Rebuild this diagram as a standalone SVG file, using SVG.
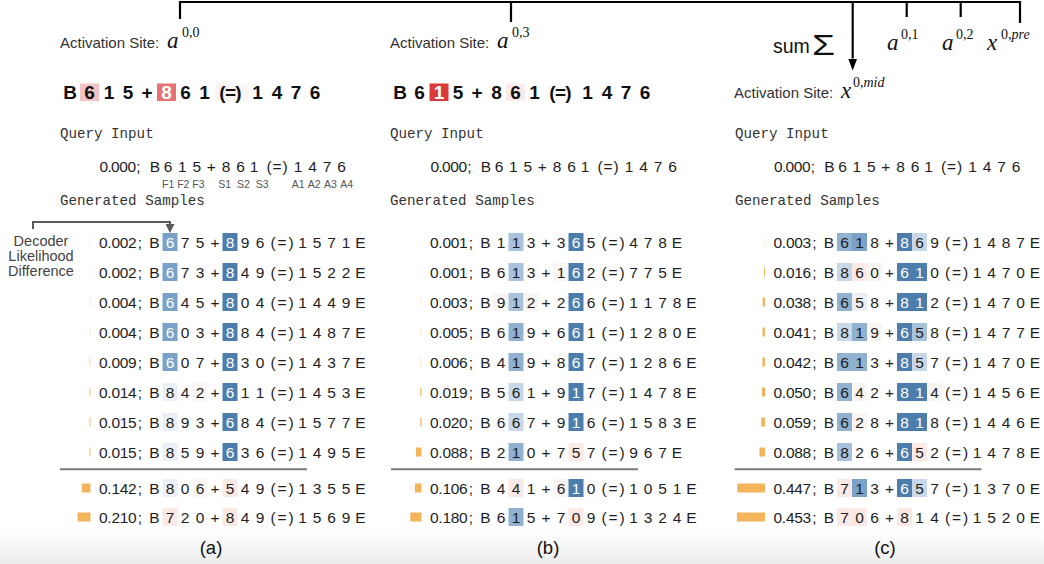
<svg xmlns="http://www.w3.org/2000/svg" width="1044" height="564" viewBox="0 0 1044 564">
<defs>
<linearGradient id="fade" x1="0" y1="0" x2="0" y2="1"><stop offset="0" stop-color="#ffffff"/><stop offset="1" stop-color="#ebebeb"/></linearGradient>
<marker id="ahk" viewBox="0 0 10 10" refX="0" refY="5" markerWidth="12" markerHeight="9" markerUnits="userSpaceOnUse" orient="auto" preserveAspectRatio="none"><path d="M0,0L10,5L0,10z" fill="#000"/></marker>
<marker id="ahg" viewBox="0 0 10 10" refX="0" refY="5" markerWidth="9" markerHeight="9" markerUnits="userSpaceOnUse" orient="auto" preserveAspectRatio="none"><path d="M0,0L10,5L0,10z" fill="#5a5a5a"/></marker>
<style>
.t{font-family:"Liberation Sans",Arial,sans-serif;font-size:15.5px;fill:#1e1e1e;text-anchor:middle}
.w{fill:#ffffff}
.big{font-family:"Liberation Sans",Arial,sans-serif;font-size:19px;font-weight:bold;fill:#111;text-anchor:middle}
.mono{font-family:"Liberation Mono","DejaVu Sans Mono",monospace;font-size:14.2px;fill:#333}
.lab{font-family:"Liberation Sans",Arial,sans-serif;font-size:15px;fill:#333}
.mi{font-family:"Liberation Serif","Times New Roman",serif;font-style:italic;font-size:23px;fill:#111}
.sup{font-family:"Liberation Serif","Times New Roman",serif;font-style:normal;font-size:14px;fill:#111}
.fl{font-family:"Liberation Sans",Arial,sans-serif;font-size:10.5px;fill:#555}
.dl{font-family:"Liberation Sans",Arial,sans-serif;font-size:14.5px;fill:#444;text-anchor:middle}
.cap{font-family:"Liberation Sans",Arial,sans-serif;font-size:18.5px;fill:#111;text-anchor:middle}
.bar{fill:#f3b45c}
.b1{fill:#eaf0f6}.b2{fill:#c9d8e8}.b3{fill:#a9c2dc}.b4{fill:#90b1d0}.b5{fill:#7aa1c7}.b6{fill:#4d7dab}
.p1{fill:#fbe9e6}.p0{fill:#f9f5f3}
.sep{stroke:#7a7a7a;stroke-width:2}
.con{fill:none;stroke:#000;stroke-width:2.2}
.cong{fill:none;stroke:#5a5a5a;stroke-width:2}
</style>
</defs>
<rect width="1044" height="564" fill="#fff"/>
<rect x="0" y="532" width="1044" height="32" fill="url(#fade)"/>

<g id="connectors">
<path class="con" d="M180,19V2H1020V23M511,2V22M906.7,2V17M960.7,2V17"/>
<path class="con" d="M852.7,2V58.5" marker-end="url(#ahk)"/>
<path class="cong" d="M33,229V222H170V224" marker-end="url(#ahg)"/>
</g>

<g id="sum-label">
<text x="773" y="53" font-family="Liberation Sans, Arial, sans-serif" font-size="19.5" fill="#111">sum</text>
<text x="812" y="55" font-family="Liberation Sans, Arial, sans-serif" font-size="30" fill="#111" textLength="23" lengthAdjust="spacingAndGlyphs">Σ</text>
</g>
<g id="a01"><text class="mi" x="887" y="50">a<tspan class="sup" x="901" dy="-11">0,1</tspan></text></g>
<g id="a02"><text class="mi" x="942" y="50">a<tspan class="sup" x="956" dy="-11">0,2</tspan></text></g>
<g id="x0pre"><text class="mi" x="987" y="50">x<tspan class="sup" x="1001" dy="-11">0,<tspan font-style="italic">pre</tspan></tspan></text></g>

<g id="site-a"><text class="lab" x="60" y="48">Activation Site: <tspan class="mi" x="167">a</tspan><tspan class="sup" x="182" dy="-11">0,0</tspan></text></g>
<g id="site-b"><text class="lab" x="390" y="48">Activation Site: <tspan class="mi" x="497">a</tspan><tspan class="sup" x="512" dy="-11">0,3</tspan></text></g>
<g id="site-c"><text class="lab" x="734" y="98">Activation Site: <tspan class="mi" x="841">x</tspan><tspan class="sup" x="853" dy="-11">0,<tspan font-style="italic">mid</tspan></tspan></text></g>

<g id="decoder-label">
<text class="dl" x="41" y="246">Decoder</text>
<text class="dl" x="41" y="261">Likelihood</text>
<text class="dl" x="41" y="276">Difference</text>
</g>

<g id="panel-a">
<g id="a-head">
<rect x="80" y="83.5" width="19" height="17.5" fill="#f3c3c3"/>
<rect x="157" y="83.5" width="19" height="17.5" fill="#e57373"/>
<rect x="215" y="83.5" width="34" height="17.5" fill="#fcf5f5"/>
<text class="big" y="98.5" x="70 80 89.5 99 109 118.5 128 137.5 147 157 166.5 176 185.5 195 204.5 212 222.5 230.5 238.5 248 257.5 267 277 286.5 296 305.5 315">B 6 1 5 + <tspan class="w">8</tspan> 6 1 (=) 1 4 7 6</text>
</g>
<text class="mono" x="60" y="138">Query Input</text>
<text class="t" y="171.5" x="103.8 109.6 115.4 123.6 131.8 135 138.5 146 155 161 168 175 182.3 189.5 196.8 204 211.3 219 226 233 240.5 247 254 261 269 277 285 291.5 298 305 312.5 320 327 334 341.5">0.000 ; B 6 1 5 + 8 6 1 (=) 1 4 7 6</text>
<text class="fl" x="162" y="188">F1 F2 F3</text>
<text class="fl" x="218.3" y="188" word-spacing="3">S1 S2 S3</text>
<text class="fl" x="291.7" y="188" word-spacing="1">A1 A2 A3 A4</text>
<text class="mono" x="60" y="205">Generated Samples</text>

<g id="a-r1" transform="translate(0,242)"><rect class="bar" x="89.5" y="-4.5" width="1" height="9" fill-opacity=".2"/><rect class="b5" x="162.5" y="-9" width="15" height="18"/><rect class="b6" x="222.5" y="-9" width="15" height="18"/><text class="t" y="5.5" x="103.2 109.4 115.7 124 132.4 136.5 140 147 154.5 162 170 177.5 185 192.5 200 207.5 215 222.5 230 237.5 245 252.5 260 266 273 282 291 297 302.5 310 317 324 331.5 339 346 353 360.5">0.002 ; B <tspan class="w">6</tspan> 7 5 + <tspan class="w">8</tspan> 9 6 (=) 1 5 7 1 E</text></g>
<g id="a-r2" transform="translate(0,272)"><rect class="bar" x="89.5" y="-4.5" width="1" height="9" fill-opacity=".2"/><rect class="b5" x="162.5" y="-9" width="15" height="18"/><rect class="b6" x="222.5" y="-9" width="15" height="18"/><text class="t" y="5.5" x="103.2 109.4 115.7 124 132.4 136.5 140 147 154.5 162 170 177.5 185 192.5 200 207.5 215 222.5 230 237.5 245 252.5 260 266 273 282 291 297 302.5 310 317 324 331.5 339 346 353 360.5">0.002 ; B <tspan class="w">6</tspan> 7 3 + <tspan class="w">8</tspan> 4 9 (=) 1 5 2 2 E</text></g>
<g id="a-r3" transform="translate(0,302)"><rect class="bar" x="89.5" y="-4.5" width="1" height="9" fill-opacity=".3"/><rect class="b5" x="162.5" y="-9" width="15" height="18"/><rect class="b6" x="222.5" y="-9" width="15" height="18"/><text class="t" y="5.5" x="103.2 109.4 115.7 124 132.4 136.5 140 147 154.5 162 170 177.5 185 192.5 200 207.5 215 222.5 230 237.5 245 252.5 260 266 273 282 291 297 302.5 310 317 324 331.5 339 346 353 360.5">0.004 ; B <tspan class="w">6</tspan> 4 5 + <tspan class="w">8</tspan> 0 4 (=) 1 4 4 9 E</text></g>
<g id="a-r4" transform="translate(0,332)"><rect class="bar" x="89.5" y="-4.5" width="1" height="9" fill-opacity=".3"/><rect class="b5" x="162.5" y="-9" width="15" height="18"/><rect class="b6" x="222.5" y="-9" width="15" height="18"/><text class="t" y="5.5" x="103.2 109.4 115.7 124 132.4 136.5 140 147 154.5 162 170 177.5 185 192.5 200 207.5 215 222.5 230 237.5 245 252.5 260 266 273 282 291 297 302.5 310 317 324 331.5 339 346 353 360.5">0.004 ; B <tspan class="w">6</tspan> 0 3 + <tspan class="w">8</tspan> 8 4 (=) 1 4 8 7 E</text></g>
<g id="a-r5" transform="translate(0,362)"><rect class="bar" x="89.5" y="-4.5" width="1" height="9" fill-opacity=".55"/><rect class="b5" x="162.5" y="-9" width="15" height="18"/><rect class="b6" x="222.5" y="-9" width="15" height="18"/><text class="t" y="5.5" x="103.2 109.4 115.7 124 132.4 136.5 140 147 154.5 162 170 177.5 185 192.5 200 207.5 215 222.5 230 237.5 245 252.5 260 266 273 282 291 297 302.5 310 317 324 331.5 339 346 353 360.5">0.009 ; B <tspan class="w">6</tspan> 0 7 + <tspan class="w">8</tspan> 3 0 (=) 1 4 3 7 E</text></g>
<g id="a-r6" transform="translate(0,392)"><rect class="bar" x="89.5" y="-4.5" width="1" height="9" fill-opacity=".8"/><rect class="b1" x="162.5" y="-9" width="15" height="18"/><rect class="p0" x="192.5" y="-9" width="15" height="18"/><rect class="b6" x="222.5" y="-9" width="15" height="18"/><text class="t" y="5.5" x="103.2 109.4 115.7 124 132.4 136.5 140 147 154.5 162 170 177.5 185 192.5 200 207.5 215 222.5 230 237.5 245 252.5 260 266 273 282 291 297 302.5 310 317 324 331.5 339 346 353 360.5">0.014 ; B 8 4 2 + <tspan class="w">6</tspan> 1 1 (=) 1 4 5 3 E</text></g>
<g id="a-r7" transform="translate(0,422)"><rect class="bar" x="89.5" y="-4.5" width="1" height="9" fill-opacity=".85"/><rect class="b1" x="162.5" y="-9" width="15" height="18"/><rect class="b6" x="222.5" y="-9" width="15" height="18"/><text class="t" y="5.5" x="103.2 109.4 115.7 124 132.4 136.5 140 147 154.5 162 170 177.5 185 192.5 200 207.5 215 222.5 230 237.5 245 252.5 260 266 273 282 291 297 302.5 310 317 324 331.5 339 346 353 360.5">0.015 ; B 8 9 3 + <tspan class="w">6</tspan> 8 4 (=) 1 5 7 7 E</text></g>
<g id="a-r8" transform="translate(0,452)"><rect class="bar" x="89.5" y="-4.5" width="1" height="9" fill-opacity=".85"/><rect class="b1" x="162.5" y="-9" width="15" height="18"/><rect class="b6" x="222.5" y="-9" width="15" height="18"/><text class="t" y="5.5" x="103.2 109.4 115.7 124 132.4 136.5 140 147 154.5 162 170 177.5 185 192.5 200 207.5 215 222.5 230 237.5 245 252.5 260 266 273 282 291 297 302.5 310 317 324 331.5 339 346 353 360.5">0.015 ; B 8 5 9 + <tspan class="w">6</tspan> 3 6 (=) 1 4 9 5 E</text></g>
<line class="sep" x1="60" y1="469.3" x2="307" y2="469.3"/>
<g id="a-r9" transform="translate(0,488)"><rect class="bar" x="81.7" y="-4.5" width="8.8" height="9"/><rect class="b1" x="162.5" y="-9" width="15" height="18"/><rect class="p0" x="192.5" y="-9" width="15" height="18"/><rect class="p1" x="222.5" y="-9" width="15" height="18"/><text class="t" y="5.5" x="103.2 109.4 115.7 124 132.4 136.5 140 147 154.5 162 170 177.5 185 192.5 200 207.5 215 222.5 230 237.5 245 252.5 260 266 273 282 291 297 302.5 310 317 324 331.5 339 346 353 360.5">0.142 ; B 8 0 6 + 5 4 9 (=) 1 3 5 5 E</text></g>
<g id="a-r10" transform="translate(0,517)"><rect class="bar" x="77.5" y="-4.5" width="13" height="9"/><rect class="p1" x="162.5" y="-9" width="15" height="18"/><rect class="p1" x="222.5" y="-9" width="15" height="18"/><text class="t" y="5.5" x="103.2 109.4 115.7 124 132.4 136.5 140 147 154.5 162 170 177.5 185 192.5 200 207.5 215 222.5 230 237.5 245 252.5 260 266 273 282 291 297 302.5 310 317 324 331.5 339 346 353 360.5">0.210 ; B 7 2 0 + 8 4 9 (=) 1 5 6 9 E</text></g>
<text class="cap" x="211" y="554">(a)</text>
</g>

<g id="panel-b" transform="translate(331,0)">
<g id="b-head" transform="translate(-1,0)">
<rect x="99.5" y="83.5" width="19" height="17.5" fill="#d93a3a"/>
<rect x="176" y="83.5" width="19" height="17.5" fill="#fbeaea"/>
<text class="big" y="98.5" x="70 80 89.5 99 109 118.5 128 137.5 147 157 166.5 176 185.5 195 204.5 212 222.5 230.5 238.5 248 257.5 267 277 286.5 296 305.5 315">B 6 <tspan class="w">1</tspan> 5 + 8 6 1 (=) 1 4 7 6</text>
</g>
<text class="mono" x="59" y="138">Query Input</text>
<text class="t" y="171.5" x="103.8 109.6 115.4 123.6 131.8 135 138.5 146 155 161 168 175 182.3 189.5 196.8 204 211.3 219 226 233 240.5 247 254 261 269 277 285 291.5 298 305 312.5 320 327 334 341.5">0.000 ; B 6 1 5 + 8 6 1 (=) 1 4 7 6</text>
<text class="mono" x="59" y="205">Generated Samples</text>

<g id="b-r1" transform="translate(0,242)"><rect class="bar" x="89.5" y="-4.5" width="1" height="9" fill-opacity=".12"/><rect class="b3" x="177.5" y="-9" width="15" height="18"/><rect class="b6" x="237.5" y="-9" width="15" height="18"/><text class="t" y="5.5" x="103.2 109.4 115.7 124 132.4 136.5 140 147 154.5 162 170 177.5 185 192.5 200 207.5 215 222.5 230 237.5 245 252.5 260 266 273 282 291 297 302.5 310 317 324 331.5 339 346 353 360.5">0.001 ; B 1 1 3 + 3 <tspan class="w">6</tspan> 5 (=) 4 7 8 E</text></g>
<g id="b-r2" transform="translate(0,272)"><rect class="bar" x="89.5" y="-4.5" width="1" height="9" fill-opacity=".12"/><rect class="b3" x="177.5" y="-9" width="15" height="18"/><rect class="p0" x="222.5" y="-9" width="15" height="18"/><rect class="b6" x="237.5" y="-9" width="15" height="18"/><text class="t" y="5.5" x="103.2 109.4 115.7 124 132.4 136.5 140 147 154.5 162 170 177.5 185 192.5 200 207.5 215 222.5 230 237.5 245 252.5 260 266 273 282 291 297 302.5 310 317 324 331.5 339 346 353 360.5">0.001 ; B 6 1 3 + 1 <tspan class="w">6</tspan> 2 (=) 7 7 5 E</text></g>
<g id="b-r3" transform="translate(0,302)"><rect class="bar" x="89.5" y="-4.5" width="1" height="9" fill-opacity=".25"/><rect class="p0" x="162.5" y="-9" width="15" height="18"/><rect class="b3" x="177.5" y="-9" width="15" height="18"/><rect class="p0" x="192.5" y="-9" width="15" height="18"/><rect class="b6" x="237.5" y="-9" width="15" height="18"/><text class="t" y="5.5" x="103.2 109.4 115.7 124 132.4 136.5 140 147 154.5 162 170 177.5 185 192.5 200 207.5 215 222.5 230 237.5 245 252.5 260 266 273 282 291 297 302.5 310 317 324 331.5 339 346 353 360.5">0.003 ; B 9 1 2 + 2 <tspan class="w">6</tspan> 6 (=) 1 1 7 8 E</text></g>
<g id="b-r4" transform="translate(0,332)"><rect class="bar" x="89.5" y="-4.5" width="1" height="9" fill-opacity=".35"/><rect class="b4" x="177.5" y="-9" width="15" height="18"/><rect class="b6" x="237.5" y="-9" width="15" height="18"/><text class="t" y="5.5" x="103.2 109.4 115.7 124 132.4 136.5 140 147 154.5 162 170 177.5 185 192.5 200 207.5 215 222.5 230 237.5 245 252.5 260 266 273 282 291 297 302.5 310 317 324 331.5 339 346 353 360.5">0.005 ; B 6 1 9 + 6 <tspan class="w">6</tspan> 1 (=) 1 2 8 0 E</text></g>
<g id="b-r5" transform="translate(0,362)"><rect class="bar" x="89.5" y="-4.5" width="1" height="9" fill-opacity=".4"/><rect class="b4" x="177.5" y="-9" width="15" height="18"/><rect class="b6" x="237.5" y="-9" width="15" height="18"/><text class="t" y="5.5" x="103.2 109.4 115.7 124 132.4 136.5 140 147 154.5 162 170 177.5 185 192.5 200 207.5 215 222.5 230 237.5 245 252.5 260 266 273 282 291 297 302.5 310 317 324 331.5 339 346 353 360.5">0.006 ; B 4 1 9 + 8 <tspan class="w">6</tspan> 7 (=) 1 2 8 6 E</text></g>
<g id="b-r6" transform="translate(0,392)"><rect class="bar" x="89.3" y="-4.5" width="1.2" height="9"/><rect class="b2" x="177.5" y="-9" width="15" height="18"/><rect class="b6" x="237.5" y="-9" width="15" height="18"/><text class="t" y="5.5" x="103.2 109.4 115.7 124 132.4 136.5 140 147 154.5 162 170 177.5 185 192.5 200 207.5 215 222.5 230 237.5 245 252.5 260 266 273 282 291 297 302.5 310 317 324 331.5 339 346 353 360.5">0.019 ; B 5 6 1 + 9 <tspan class="w">1</tspan> 7 (=) 1 4 7 8 E</text></g>
<g id="b-r7" transform="translate(0,422)"><rect class="bar" x="89.3" y="-4.5" width="1.2" height="9"/><rect class="b2" x="177.5" y="-9" width="15" height="18"/><rect class="b6" x="237.5" y="-9" width="15" height="18"/><text class="t" y="5.5" x="103.2 109.4 115.7 124 132.4 136.5 140 147 154.5 162 170 177.5 185 192.5 200 207.5 215 222.5 230 237.5 245 252.5 260 266 273 282 291 297 302.5 310 317 324 331.5 339 346 353 360.5">0.020 ; B 6 6 7 + 9 <tspan class="w">1</tspan> 6 (=) 1 5 8 3 E</text></g>
<g id="b-r8" transform="translate(0,452)"><rect class="bar" x="85" y="-4.5" width="5.5" height="9"/><rect class="b4" x="177.5" y="-9" width="15" height="18"/><rect class="p1" x="237.5" y="-9" width="15" height="18"/><text class="t" y="5.5" x="103.2 109.4 115.7 124 132.4 136.5 140 147 154.5 162 170 177.5 185 192.5 200 207.5 215 222.5 230 237.5 245 252.5 260 266 273 282 291 297 302.5 310 317 324 331.5 339 346 353 360.5">0.088 ; B 2 1 0 + 7 5 7 (=) 9 6 7 E</text></g>
<line class="sep" x1="60" y1="469.3" x2="307" y2="469.3"/>
<g id="b-r9" transform="translate(0,488)"><rect class="bar" x="83.9" y="-4.5" width="6.6" height="9"/><rect class="p1" x="177.5" y="-9" width="15" height="18"/><rect class="p0" x="222.5" y="-9" width="15" height="18"/><rect class="b6" x="237.5" y="-9" width="15" height="18"/><text class="t" y="5.5" x="103.2 109.4 115.7 124 132.4 136.5 140 147 154.5 162 170 177.5 185 192.5 200 207.5 215 222.5 230 237.5 245 252.5 260 266 273 282 291 297 302.5 310 317 324 331.5 339 346 353 360.5">0.106 ; B 4 4 1 + 6 <tspan class="w">1</tspan> 0 (=) 1 0 5 1 E</text></g>
<g id="b-r10" transform="translate(0,517)"><rect class="bar" x="79.3" y="-4.5" width="11.2" height="9"/><rect class="b4" x="177.5" y="-9" width="15" height="18"/><rect class="p1" x="237.5" y="-9" width="15" height="18"/><text class="t" y="5.5" x="103.2 109.4 115.7 124 132.4 136.5 140 147 154.5 162 170 177.5 185 192.5 200 207.5 215 222.5 230 237.5 245 252.5 260 266 273 282 291 297 302.5 310 317 324 331.5 339 346 353 360.5">0.180 ; B 6 1 5 + 7 0 9 (=) 1 3 2 4 E</text></g>
<text class="cap" x="217" y="554">(b)</text>
</g>

<g id="panel-c" transform="translate(674.5,0)">
<text class="mono" x="60.5" y="138">Query Input</text>
<text class="t" y="171.5" x="103.8 109.6 115.4 123.6 131.8 135 138.5 146 155 161 168 175 182.3 189.5 196.8 204 211.3 219 226 233 240.5 247 254 261 269 277 285 291.5 298 305 312.5 320 327 334 341.5">0.000 ; B 6 1 5 + 8 6 1 (=) 1 4 7 6</text>
<text class="mono" x="60.5" y="205">Generated Samples</text>

<g id="c-r1" transform="translate(0,242)"><rect class="bar" x="89.5" y="-4.5" width="1" height="9" fill-opacity=".2"/><rect class="b4" x="162.5" y="-9" width="15" height="18"/><rect class="b5" x="177.5" y="-9" width="15" height="18"/><rect class="b6" x="222.5" y="-9" width="15" height="18"/><rect class="b2" x="237.5" y="-9" width="15" height="18"/><text class="t" y="5.5" x="103.2 109.4 115.7 124 132.4 136.5 140 147 154.5 162 170 177.5 185 192.5 200 207.5 215 222.5 230 237.5 245 252.5 260 266 273 282 291 297 302.5 310 317 324 331.5 339 346 353 360.5">0.003 ; B 6 1 8 + <tspan class="w">8</tspan> 6 9 (=) 1 4 8 7 E</text></g>
<g id="c-r2" transform="translate(0,272)"><rect class="bar" x="89.5" y="-4.5" width="1" height="9"/><rect class="b2" x="162.5" y="-9" width="15" height="18"/><rect class="p1" x="177.5" y="-9" width="15" height="18"/><rect class="p0" x="192.5" y="-9" width="15" height="18"/><rect class="b6" x="222.5" y="-9" width="15" height="18"/><rect class="b6" x="237.5" y="-9" width="15" height="18"/><text class="t" y="5.5" x="103.2 109.4 115.7 124 132.4 136.5 140 147 154.5 162 170 177.5 185 192.5 200 207.5 215 222.5 230 237.5 245 252.5 260 266 273 282 291 297 302.5 310 317 324 331.5 339 346 353 360.5">0.016 ; B 8 6 0 + <tspan class="w">6</tspan> <tspan class="w">1</tspan> 0 (=) 1 4 7 0 E</text></g>
<g id="c-r3" transform="translate(0,302)"><rect class="bar" x="88.1" y="-4.5" width="2.4" height="9"/><rect class="b4" x="162.5" y="-9" width="15" height="18"/><rect class="b1" x="177.5" y="-9" width="15" height="18"/><rect class="b6" x="222.5" y="-9" width="15" height="18"/><rect class="b6" x="237.5" y="-9" width="15" height="18"/><text class="t" y="5.5" x="103.2 109.4 115.7 124 132.4 136.5 140 147 154.5 162 170 177.5 185 192.5 200 207.5 215 222.5 230 237.5 245 252.5 260 266 273 282 291 297 302.5 310 317 324 331.5 339 346 353 360.5">0.038 ; B 6 5 8 + <tspan class="w">8</tspan> <tspan class="w">1</tspan> 2 (=) 1 4 7 0 E</text></g>
<g id="c-r4" transform="translate(0,332)"><rect class="bar" x="88" y="-4.5" width="2.5" height="9"/><rect class="b2" x="162.5" y="-9" width="15" height="18"/><rect class="b4" x="177.5" y="-9" width="15" height="18"/><rect class="p0" x="192.5" y="-9" width="15" height="18"/><rect class="b6" x="222.5" y="-9" width="15" height="18"/><rect class="b3" x="237.5" y="-9" width="15" height="18"/><text class="t" y="5.5" x="103.2 109.4 115.7 124 132.4 136.5 140 147 154.5 162 170 177.5 185 192.5 200 207.5 215 222.5 230 237.5 245 252.5 260 266 273 282 291 297 302.5 310 317 324 331.5 339 346 353 360.5">0.041 ; B 8 1 9 + <tspan class="w">6</tspan> 5 8 (=) 1 4 7 7 E</text></g>
<g id="c-r5" transform="translate(0,362)"><rect class="bar" x="87.9" y="-4.5" width="2.6" height="9"/><rect class="b4" x="162.5" y="-9" width="15" height="18"/><rect class="b4" x="177.5" y="-9" width="15" height="18"/><rect class="b6" x="222.5" y="-9" width="15" height="18"/><rect class="b2" x="237.5" y="-9" width="15" height="18"/><text class="t" y="5.5" x="103.2 109.4 115.7 124 132.4 136.5 140 147 154.5 162 170 177.5 185 192.5 200 207.5 215 222.5 230 237.5 245 252.5 260 266 273 282 291 297 302.5 310 317 324 331.5 339 346 353 360.5">0.042 ; B 6 1 3 + <tspan class="w">8</tspan> 5 7 (=) 1 4 7 0 E</text></g>
<g id="c-r6" transform="translate(0,392)"><rect class="bar" x="87.4" y="-4.5" width="3.1" height="9"/><rect class="b4" x="162.5" y="-9" width="15" height="18"/><rect class="p0" x="177.5" y="-9" width="15" height="18"/><rect class="b6" x="222.5" y="-9" width="15" height="18"/><rect class="b6" x="237.5" y="-9" width="15" height="18"/><rect class="p0" x="252.5" y="-9" width="15" height="18"/><text class="t" y="5.5" x="103.2 109.4 115.7 124 132.4 136.5 140 147 154.5 162 170 177.5 185 192.5 200 207.5 215 222.5 230 237.5 245 252.5 260 266 273 282 291 297 302.5 310 317 324 331.5 339 346 353 360.5">0.050 ; B 6 4 2 + <tspan class="w">8</tspan> <tspan class="w">1</tspan> 4 (=) 1 4 5 6 E</text></g>
<g id="c-r7" transform="translate(0,422)"><rect class="bar" x="86.8" y="-4.5" width="3.7" height="9"/><rect class="b4" x="162.5" y="-9" width="15" height="18"/><rect class="p0" x="177.5" y="-9" width="15" height="18"/><rect class="b6" x="222.5" y="-9" width="15" height="18"/><rect class="b6" x="237.5" y="-9" width="15" height="18"/><text class="t" y="5.5" x="103.2 109.4 115.7 124 132.4 136.5 140 147 154.5 162 170 177.5 185 192.5 200 207.5 215 222.5 230 237.5 245 252.5 260 266 273 282 291 297 302.5 310 317 324 331.5 339 346 353 360.5">0.059 ; B 6 2 8 + <tspan class="w">8</tspan> <tspan class="w">1</tspan> 8 (=) 1 4 4 6 E</text></g>
<g id="c-r8" transform="translate(0,452)"><rect class="bar" x="85" y="-4.5" width="5.5" height="9"/><rect class="b3" x="162.5" y="-9" width="15" height="18"/><rect class="b6" x="222.5" y="-9" width="15" height="18"/><rect class="p1" x="237.5" y="-9" width="15" height="18"/><text class="t" y="5.5" x="103.2 109.4 115.7 124 132.4 136.5 140 147 154.5 162 170 177.5 185 192.5 200 207.5 215 222.5 230 237.5 245 252.5 260 266 273 282 291 297 302.5 310 317 324 331.5 339 346 353 360.5">0.088 ; B 8 2 6 + <tspan class="w">6</tspan> 5 2 (=) 1 4 7 8 E</text></g>
<line class="sep" x1="60" y1="469.3" x2="307" y2="469.3"/>
<g id="c-r9" transform="translate(0,488)"><rect class="bar" x="62.8" y="-4.5" width="27.7" height="9"/><rect class="p1" x="162.5" y="-9" width="15" height="18"/><rect class="b5" x="177.5" y="-9" width="15" height="18"/><rect class="b6" x="222.5" y="-9" width="15" height="18"/><rect class="b2" x="237.5" y="-9" width="15" height="18"/><text class="t" y="5.5" x="103.2 109.4 115.7 124 132.4 136.5 140 147 154.5 162 170 177.5 185 192.5 200 207.5 215 222.5 230 237.5 245 252.5 260 266 273 282 291 297 302.5 310 317 324 331.5 339 346 353 360.5">0.447 ; B 7 1 3 + <tspan class="w">6</tspan> 5 7 (=) 1 3 7 0 E</text></g>
<g id="c-r10" transform="translate(0,517)"><rect class="bar" x="62.4" y="-4.5" width="28.1" height="9"/><rect class="p1" x="162.5" y="-9" width="15" height="18"/><rect class="p1" x="177.5" y="-9" width="15" height="18"/><rect class="p1" x="222.5" y="-9" width="15" height="18"/><text class="t" y="5.5" x="103.2 109.4 115.7 124 132.4 136.5 140 147 154.5 162 170 177.5 185 192.5 200 207.5 215 222.5 230 237.5 245 252.5 260 266 273 282 291 297 302.5 310 317 324 331.5 339 346 353 360.5">0.453 ; B 7 0 6 + 8 1 4 (=) 1 5 2 0 E</text></g>
<text class="cap" x="210.5" y="554">(c)</text>
</g>
</svg>
